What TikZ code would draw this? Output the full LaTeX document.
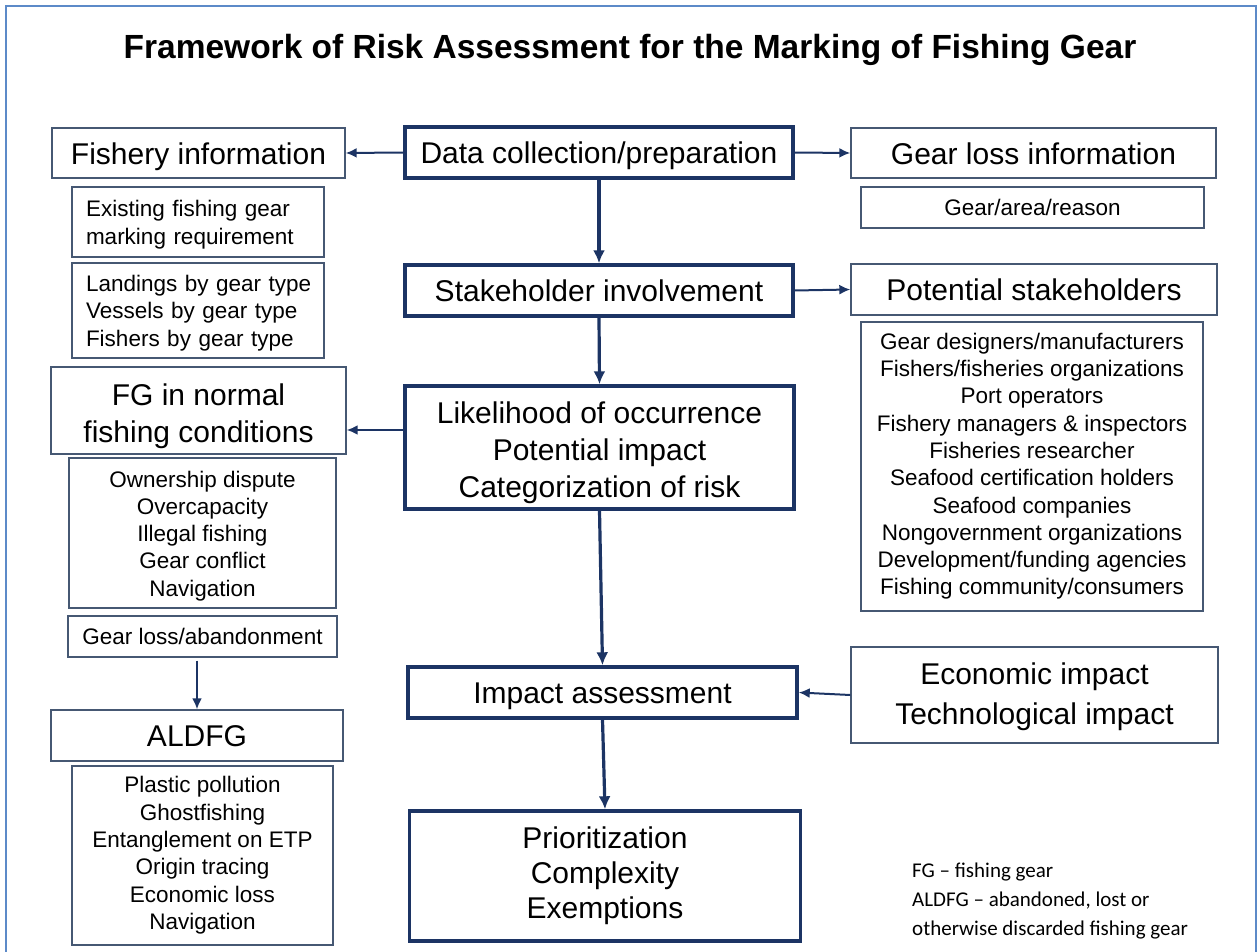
\documentclass[tikz,border=0pt]{standalone}
\usepackage{fontspec}
\setmainfont{Liberation Sans}
\newfontfamily\calib{Carlito}
\usetikzlibrary{arrows.meta}
\definecolor{navy}{RGB}{28,52,100}
\definecolor{slate}{RGB}{70,88,115}
\definecolor{frameblue}{RGB}{92,138,200}
\newcommand\lnstrut{\rule[-0.23em]{0pt}{1.21em}}
\newcommand\topstrut[1]{\rule{0pt}{#1}}
\tikzset{
  capcenter/.style={execute at begin node=\lnstrut, execute at end node=\lnstrut},
  thinbox/.style={draw=slate,line width=1.4pt,fill=white,inner sep=0pt,align=center,capcenter},
  thickbox/.style={draw=navy,line width=3.4pt,fill=white,inner sep=0pt,align=center,capcenter},
  big/.style={font=\fontsize{30}{37}\selectfont},
  small/.style={font=\fontsize{22.5}{27.3}\selectfont},
  thickarr/.style={draw=navy,line width=3.2pt,-{Latex[length=13pt,width=12pt]}},
  thinarr/.style={draw=navy,line width=2pt,-{Latex[length=11pt,width=10pt]}},
}
\begin{document}
\begin{tikzpicture}[x=1pt,y=-1pt]
\useasboundingbox (0,0) rectangle (1258,952);
% outer frame
\draw[frameblue,line width=2pt] (6,960) -- (6,6) -- (1256,6) -- (1256,960);
% title
\node[font=\fontsize{33.5}{40}\selectfont\bfseries,capcenter,inner sep=0pt] (title) at (630,46) {Framework of Risk Assessment for the Marking of Fishing Gear};
% central column
\node[thickbox,big,minimum width=388pt,minimum height=51pt] (datacol) at (599,152.5) {Data collection/preparation};
\node[thickbox,big,minimum width=388pt,minimum height=51pt] (stake) at (599,290.5) {Stakeholder involvement};
\node[thickbox,big,minimum width=389pt,minimum height=123pt] (likely) at (599.5,447.5) {\topstrut{1.1em}Likelihood of occurrence\\Potential impact\\Categorization of risk};
\node[thickbox,big,minimum width=389pt,minimum height=51pt] (impact) at (602.5,692.5) {Impact assessment};
\node[thickbox,font=\fontsize{30}{35}\selectfont,minimum width=391pt,minimum height=130pt] (prio) at (605,876) {Prioritization\\Complexity\\Exemptions};
% left column
\node[thinbox,big,minimum width=293pt,minimum height=50pt] (fishinfo) at (198.5,153) {Fishery information};
\node[thinbox,small,minimum width=252pt,minimum height=70pt,align=left,text width=224pt] (existing) at (198,222) {\mbox{Existing fishing gear}\\\mbox{marking requirement}};
\node[thinbox,small,minimum width=252pt,minimum height=95pt,align=left,text width=224pt] (landings) at (198,310.5) {\mbox{Landings by gear type}\\\mbox{Vessels by gear type}\\\mbox{Fishers by gear type}};
\node[thinbox,big,minimum width=295pt,minimum height=87pt] (fgnormal) at (198.5,410.5) {\topstrut{1.1em}FG in normal\\fishing conditions};
\node[thinbox,small,minimum width=267pt,minimum height=150pt] (ownlist) at (202.5,533) {\topstrut{1.0em}Ownership dispute\\Overcapacity\\Illegal fishing\\Gear conflict\\Navigation};
\node[thinbox,small,minimum width=269pt,minimum height=41pt] (gla) at (202.5,636.5) {Gear loss/abandonment};
\node[thinbox,big,minimum width=292pt,minimum height=51pt] (aldfg) at (197,735.5) {ALDFG};
\node[thinbox,small,minimum width=261pt,minimum height=179pt] (plastic) at (202.5,855.5) {Plastic pollution\\Ghostfishing\\Entanglement on ETP\\Origin tracing\\Economic loss\\Navigation};
% right column
\node[thinbox,big,minimum width=365pt,minimum height=50pt] (gearloss) at (1033.5,153) {Gear loss information};
\node[thinbox,small,minimum width=343pt,minimum height=41pt] (gar) at (1032.5,207.5) {Gear/area/reason};
\node[thinbox,big,minimum width=366pt,minimum height=51pt] (potstake) at (1034,289.5) {Potential stakeholders};
\node[thinbox,small,minimum width=342pt,minimum height=289pt] (stlist) at (1032,466.5) {Gear designers/manufacturers\\Fishers/fisheries organizations\\Port operators\\Fishery managers \& inspectors\\Fisheries researcher\\Seafood certification holders\\Seafood companies\\Nongovernment organizations\\Development/funding agencies\\Fishing community/consumers};
\node[thinbox,font=\fontsize{30}{40}\selectfont,minimum width=367pt,minimum height=96pt] (econ) at (1034.5,695) {\topstrut{0.87em}Economic impact\\Technological impact};
% footnote
\node[font=\calib\fontsize{21}{29}\selectfont,align=left,anchor=west,inner sep=0pt] (note) at (912,901) {FG – fishing gear\\ALDFG – abandoned, lost or\\otherwise discarded fishing gear};
% connectors
\coordinate (lvl) at (0,430);
\draw[thinarr] (datacol.west) -- (fishinfo.east);
\draw[thinarr] (datacol.east) -- (gearloss.west);
\draw[thickarr] (datacol.south) -- (stake.north);
\draw[thinarr] (stake.east) -- (potstake.west);
\draw[thickarr] (stake.south) -- (likely.north);
\draw[thinarr] (likely.west |- lvl) -- (fgnormal.east |- lvl);
\draw[thickarr] (likely.south) -- (impact.north);
\draw[thinarr] (econ.west) -- (impact.east);
\draw[thickarr] (impact.south) -- (prio.north);
\draw[thinarr,shorten <=3pt] (gla.south -| aldfg.north) -- (aldfg.north);
\end{tikzpicture}
\end{document}
